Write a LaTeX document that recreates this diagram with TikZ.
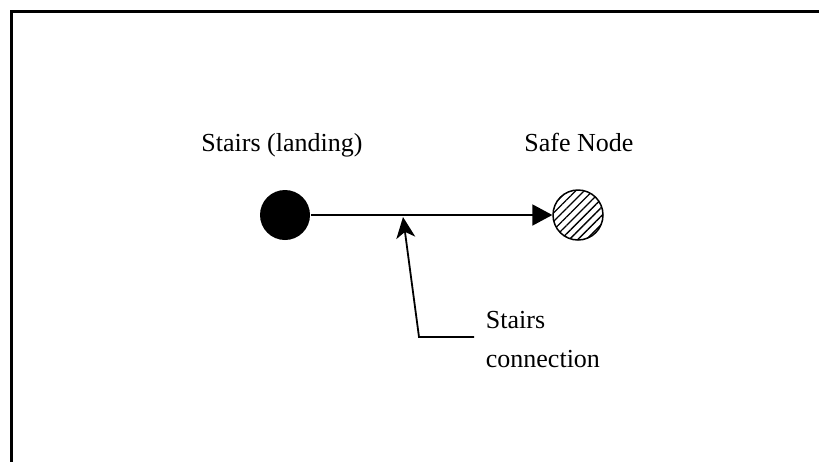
\documentclass[tikz,border=0pt]{standalone}
\usepackage{fontspec}
\setmainfont{Liberation Serif}
\usetikzlibrary{arrows.meta,patterns.meta}
\begin{document}
\begin{tikzpicture}[x=1pt,y=-1pt,line width=1.8pt,
  spot/.style={circle,minimum size=50pt,inner sep=0pt},
  lbl/.style={font=\fontsize{26}{39}\selectfont,inner sep=0pt}]
\useasboundingbox (0,0) rectangle (819,461);
\draw[line width=3pt] (11,470)--(11,11)--(830,11);
\node[spot,fill] (landing) at (285,215) {};
\node[spot,draw,line width=1.5pt,pattern={Lines[angle=45,distance=6pt,line width=1.3pt]}] (safe) at (578,215) {};
\node[lbl,anchor=base] (landingtxt) at (282,151) {Stairs (landing)};
\node[lbl,anchor=base] (safetxt) at (579,151) {Safe Node};
\draw[-{Triangle[length=20pt,width=21pt]}] (landing) -- (safe);
\node[lbl,anchor=base west,align=left] (conn) at (485,367) {Stairs\\connection};
\coordinate (bend) at (419,337);
\coordinate (hit) at (403,217);
\draw[-{Stealth[length=21pt,width=19pt,inset=6pt]}] (474,337) -- (bend) -- (hit);
\end{tikzpicture}
\end{document}
